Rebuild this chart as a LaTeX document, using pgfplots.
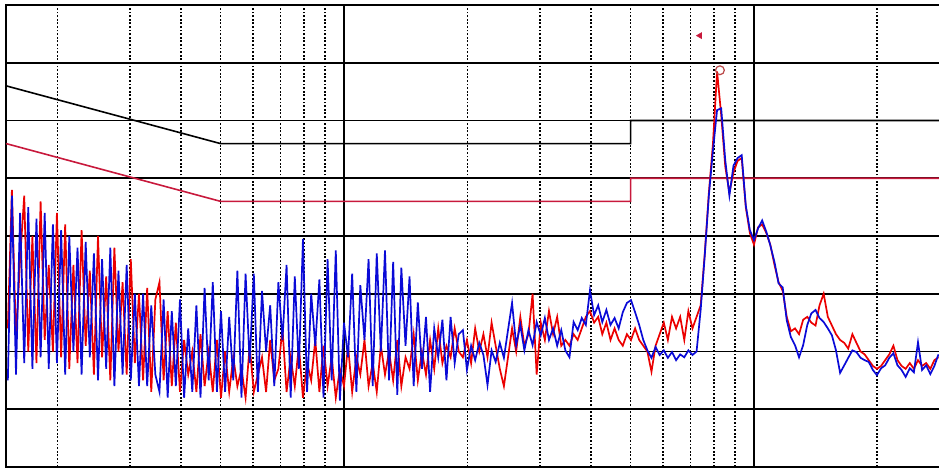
\documentclass[border=0pt]{standalone}
\usepackage{pgfplots}
\usepackage{pgfplotstable}
\pgfplotsset{compat=1.18}
\definecolor{limred}{RGB}{200,25,60}
\definecolor{tracered}{RGB}{235,0,0}
\definecolor{traceblue}{RGB}{10,10,215}
\pgfplotstableread{
f B R
0.1514 15 24
0.1549 47 48
0.1585 16 22
0.1622 44 36
0.1660 18 47
0.1698 45 20
0.1738 17 40
0.1778 43 18
0.1820 19 46
0.1862 44 22
0.1905 17 35
0.1950 42 20
0.1995 18 44
0.2042 41 19
0.2089 16 42
0.2138 40 17
0.2188 20 35
0.2239 38 18
0.2291 16 41
0.2344 39 21
0.2399 19 34
0.2455 37 16
0.2512 15 40
0.2570 36 19
0.2630 17 33
0.2692 38 15
0.2754 14 38
0.2818 34 20
0.2884 16 32
0.2951 35 16
0.3020 15 36
0.3090 30 18
0.3162 14 30
0.3236 30 15
0.3311 14 31
0.3388 28 13
0.3467 16 29
0.3548 13 32
0.3631 29 15
0.3715 12 27
0.3802 27 14
0.3890 14 25
0.3981 29 13
0.4074 12 22
0.4169 24 16
0.4266 13 20
0.4365 28 13
0.4467 12 23
0.4571 31 14
0.4677 15 20
0.4786 32 13
0.4898 13 22
0.5012 27 12
0.5129 13 20
0.5248 26 13
0.5370 15 19
0.5495 34 14
0.5623 12 17
0.5754 33.5 12
0.5888 18 21
0.6026 33.5 13
0.6166 13 16
0.6310 30.5 19
0.6457 20 13
0.6607 28 22
0.6761 14 15
0.6918 32 17
0.7079 22 24
0.7244 35 13
0.7413 12 19
0.7586 33 14
0.7762 17 21
0.7943 39.5 12
0.8128 13 18
0.8318 30 15
0.8511 21 22
0.8710 32.5 13
0.8913 12 21
0.9120 36 14
0.9333 15 19
0.9550 37.5 12
0.9772 11.5 17
1.000 25 14
1.023 19 21
1.047 33.5 13
1.072 13 19
1.096 31.5 16
1.122 22 22
1.148 36 14
1.175 14 18
1.202 37 13
1.230 20 21
1.259 37.5 16
1.288 15 20
1.318 35.5 15
1.349 12.5 22
1.380 34.5 14
1.413 21 19
1.445 33 17
1.479 14 23
1.514 28.5 15
1.549 17 20
1.585 26 16
1.622 13 22
1.660 24 17
1.698 19 24
1.738 25.5 18
1.778 15 21
1.820 26 19
1.862 18 24
1.905 23 20
1.950 23.7 19
1.995 16.8 22
2.042 21 18
2.089 18.5 24
2.138 21.5 20
2.188 19.4 23
2.239 14.2 19
2.291 20.2 25
2.344 18.2 21
2.399 21.5 17
2.455 18.9 14
2.512 23.7 19
2.570 28.4 24
2.630 21.1 20
2.692 24.6 26
2.754 20.2 21
2.818 23.7 23
2.884 21.1 30
2.951 25.1 16
3.020 22.8 25
3.090 25.8 22
3.162 22 27
3.236 24 23
3.311 21 26
3.388 23.7 21
3.467 20.2 22
3.548 19 21
3.631 25.1 23
3.715 23.7 22
3.802 25.8 24
3.890 24.6 26
3.981 30.6 27
4.074 26.3 25
4.169 28 26
4.266 25.1 23
4.365 27.2 25
4.467 24.6 22
4.571 25.8 24
4.677 24 22
4.786 26.8 21
4.898 28.4 23
5.012 28.9 22
5.129 26.8 24
5.248 24.6 22
5.370 22 21
5.495 20.2 20
5.623 18.9 16.5
5.754 20.8 21
5.888 19.4 23
6.026 20.2 25
6.166 18.9 22
6.310 19.9 26
6.457 18.5 24
6.607 19.5 26
6.761 19 22
6.918 20.2 27
7.079 19.4 24
7.244 20 26
7.413 27.2 28
7.586 36.7 37
7.762 47 47.5
7.943 54.8 56
8.128 61.8 68.5
8.318 62.1 61
8.511 53.1 52
8.710 47 47.5
8.913 52.2 51
9.120 53.5 53
9.333 54 53.5
9.550 45.3 45
9.772 41 40.5
10.00 39.3 38.5
10.23 41.3 41.5
10.47 42.7 42
10.72 40.7 40.5
10.96 38.4 38.5
11.22 35.5 35
11.48 31.8 32
11.75 31.1 30.5
12.02 25.4 26
12.30 22.5 23.5
12.59 21.1 24
12.88 19 23
13.18 21.1 25.5
13.49 24.6 26
13.80 26.6 25
14.13 27.2 24.5
14.45 25.8 28
14.79 25.1 30
15.14 24 26
15.49 22.8 24.5
15.85 20.2 23
16.22 16.3 22
16.60 17.6 21.5
16.98 18.9 20.5
17.38 20.2 23
17.78 19.9 21.5
18.20 18.9 20
18.62 18.5 19.5
19.05 18.2 18.5
19.50 16.8 17.5
19.95 15.9 17
20.42 17.1 17.5
20.89 17.6 18.5
21.38 18.9 19.5
21.88 19.7 21
22.39 17.6 18.5
22.91 16.8 17.5
23.44 15.6 17
23.99 17.1 18
24.55 16.4 17
25.12 21.6 18.5
25.70 16.8 17.5
26.30 17.6 18
26.92 16.1 17
27.54 17.5 18.5
28.18 19.5 19
}\spec
\begin{document}
\begin{tikzpicture}
\begin{axis}[
  scale only axis, width=471.7pt, height=231pt,
  xmode=log, xmin=0.15, xmax=30, ymin=0, ymax=80,
  xtick={1,10},
  minor xtick={0.2,0.3,0.4,0.5,0.6,0.7,0.8,0.9,2,3,4,5,6,7,8,9,20},
  ytick={0,10,20,30,40,50,60,70,80},
  xticklabels={}, yticklabels={},
  major tick length=0pt, minor tick length=0pt,
  xmajorgrids, xminorgrids, ymajorgrids,
  major grid style={black, line width=0.9pt},
  minor grid style={black, line width=0.9pt, dash pattern=on 0.9pt off 0.9pt},
  axis line style={black, line width=0.9pt},
]
\addplot[black, line width=0.8pt] coordinates {(0.15,66) (0.5,56) (5,56) (5,60) (30,60)};
\addplot[limred, line width=0.8pt] coordinates {(0.15,56) (0.5,46) (5,46) (5,50) (30,50)};
\addplot[tracered, line width=0.85pt, no marks] table[x=f,y=R]{\spec};
\addplot[traceblue, line width=0.85pt, no marks] table[x=f,y=B]{\spec};
\addplot[only marks, mark=o, mark size=2.2pt, mark options={draw=red!45!gray, line width=0.6pt}] coordinates {(8.26,68.7)};
\addplot[only marks, mark=triangle*, mark size=1.6pt, mark options={rotate=90, fill=limred, draw=limred}] coordinates {(7.38,74.7)};
\coordinate (sw) at (rel axis cs:0,0);
\end{axis}
\pgfresetboundingbox
\path (sw) ++(-3.1pt,-0.5pt) rectangle ++(469.5pt,234pt);
\end{tikzpicture}
\end{document}
